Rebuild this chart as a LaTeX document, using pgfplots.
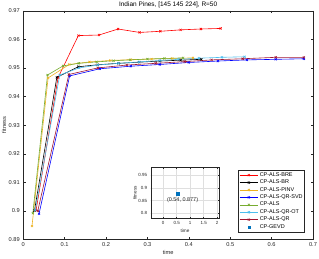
\documentclass[border=0pt]{standalone}
\usepackage{pgfplots}
\pgfplotsset{compat=1.18}
\usepackage{fontspec}
\setmainfont{Liberation Sans}
\definecolor{axgray}{rgb}{0.15,0.15,0.15}
\definecolor{mOrange}{rgb}{0.929,0.694,0.125}
\definecolor{mGreen}{rgb}{0.466,0.674,0.188}
\definecolor{mCyan}{rgb}{0.301,0.745,0.933}
\definecolor{mDRed}{rgb}{0.635,0.078,0.184}
\definecolor{mBlue}{rgb}{0,0.447,0.741}
\begin{document}
\begin{tikzpicture}
\path[use as bounding box] (0,0) rectangle (319bp,259bp);
\begin{axis}[
  at={(23.3bp,19.5bp)}, anchor=south west,
  scale only axis, width=289.7bp, height=228.8bp,
  xmin=0, xmax=0.7, ymin=0.89, ymax=0.97,
  xtick={0,0.1,...,0.7}, ytick={0.89,0.9,...,0.97},
  xticklabels={0,0.1,0.2,0.3,0.4,0.5,0.6,0.7},
  yticklabels={0.89,0.9,0.91,0.92,0.93,0.94,0.95,0.96,0.97},
  axis line style={axgray, line width=0.4pt},
  tick style={axgray, line width=0.4pt},
  tick align=inside, major tick length=2.5bp,
  tick label style={font=\fontsize{5.7}{6}\selectfont, text=axgray},
  /pgf/number format/assume math mode=true,
  every axis title shift=0pt,
  title={Indian Pines, [145 145 224], R=50},
  title style={font=\fontsize{6.5}{7}\selectfont, at={(axis description cs:0.5,1.024)}, anchor=center, inner sep=0bp},
  xlabel={time}, ylabel={fitness},
  xlabel style={font=\fontsize{5.7}{6}\selectfont, text=axgray, at={(axis description cs:0.5,-0.055)}, anchor=center},
  ylabel style={font=\fontsize{5.7}{6}\selectfont, text=axgray, at={(axis description cs:-0.066,0.5)}, anchor=center, rotate=0},
  every axis plot/.append style={line width=0.6pt, mark=x, mark size=1.5bp},
  legend cell align=left,
  legend style={font=\fontsize{5.5}{6}\selectfont, draw=axgray, line width=0.4pt,
    at={(axis description cs:0.972,0.033)}, anchor=south east,
    inner sep=0.8bp, row sep=-0.3bp, nodes={inner sep=1.2bp}},
  legend image code/.code={\draw[mark repeat=2,mark phase=2,#1] plot coordinates {(0cm,0cm) (0.33cm,0cm) (0.66cm,0cm)};},
]
\addplot[color=red] coordinates {(0.031,0.9003) (0.084,0.9466) (0.133,0.9613) (0.183,0.9615) (0.229,0.9636) (0.281,0.9624) (0.331,0.9628) (0.380,0.9633) (0.429,0.9636) (0.477,0.9638)};
\addlegendentry{CP-ALS-BRE}
\addplot[color=black] coordinates {(0.027,0.9001) (0.081,0.9467) (0.133,0.9504) (0.18,0.9511) (0.23,0.9516) (0.28,0.9520) (0.33,0.9524) (0.38,0.9527) (0.43,0.9530)};
\addlegendentry{CP-ALS-BR}
\addplot[color=mOrange] coordinates {(0.021,0.8947) (0.060,0.9465) (0.111,0.9512) (0.16,0.9521) (0.21,0.9526) (0.26,0.9529) (0.31,0.9531) (0.36,0.9533) (0.41,0.9535)};
\addlegendentry{CP-ALS-PINV}
\addplot[color=blue] coordinates {(0.038,0.8990) (0.112,0.9472) (0.185,0.9497) (0.26,0.9506) (0.33,0.9512) (0.40,0.9519) (0.47,0.9524) (0.54,0.9528) (0.61,0.9530) (0.678,0.9532)};
\addlegendentry{CP-ALS-QR-SVD}
\addplot[color=mGreen] coordinates {(0.023,0.8992) (0.0585,0.9475) (0.096,0.9507) (0.134,0.9516) (0.177,0.9521) (0.218,0.9525) (0.258,0.9528) (0.30,0.9531) (0.341,0.9533) (0.386,0.9535)};
\addlegendentry{CP-ALS}
\addplot[color=mCyan] coordinates {(0.029,0.9003) (0.088,0.9475) (0.135,0.9500) (0.18,0.9510) (0.23,0.9516) (0.28,0.9521) (0.33,0.9526) (0.375,0.9530) (0.425,0.9534) (0.48,0.9537) (0.535,0.9539)};
\addlegendentry{CP-ALS-QR-OT}
\addplot[color=mDRed] coordinates {(0.035,0.9000) (0.110,0.9477) (0.18,0.9500) (0.25,0.9510) (0.32,0.9516) (0.39,0.9522) (0.455,0.9528) (0.53,0.9532) (0.61,0.9537) (0.678,0.9537)};
\addlegendentry{CP-ALS-QR}
\addlegendimage{only marks, mark=square*, mark size=1.1bp, color=mBlue}
\addlegendentry{CP-GEVD}
\end{axis}
\begin{axis}[
  at={(150.7bp,40.7bp)}, anchor=south west,
  scale only axis, width=68.6bp, height=50.6bp,
  xmin=-0.46, xmax=2.08, ymin=0.78, ymax=0.98,
  xtick={0,0.5,1,1.5,2}, ytick={0.8,0.85,0.9,0.95},
  xticklabels={0,0.5,1,1.5,2}, yticklabels={0.8,0.85,0.9,0.95},
  grid=major, major grid style={gray!25, line width=0.3pt},
  axis background/.style={fill=white},
  axis line style={axgray, line width=0.4pt},
  tick style={axgray, line width=0.4pt},
  tick align=inside, major tick length=1.5bp,
  tick label style={font=\fontsize{4.5}{5}\selectfont, text=axgray},
  /pgf/number format/assume math mode=true,
  xlabel={time}, ylabel={fitness},
  xlabel style={font=\fontsize{4.7}{5}\selectfont, text=axgray, at={(axis description cs:0.5,-0.245)}, anchor=center},
  ylabel style={font=\fontsize{4.7}{5}\selectfont, text=axgray, at={(axis description cs:-0.229,0.5)}, anchor=center, rotate=0},
]
\addplot[only marks, mark=square*, mark size=1.1bp, color=mBlue] coordinates {(0.54,0.877)};
\node[font=\fontsize{5.5}{6}\selectfont, text=axgray, anchor=north, inner sep=0pt] at (axis cs:0.72,0.862) {(0.54, 0.877)};
\end{axis}
\end{tikzpicture}
\end{document}
